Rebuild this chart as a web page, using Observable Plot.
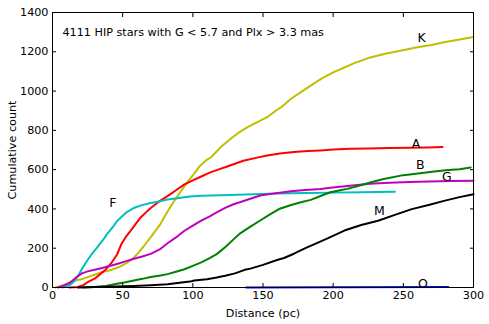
<!DOCTYPE html>
<html><head><meta charset="utf-8">
<script src="https://cdn.jsdelivr.net/npm/d3@7"></script>
<script src="https://cdn.jsdelivr.net/npm/@observablehq/plot@0.6"></script>
<style>body{margin:0;background:#fff;font-family:"DejaVu Sans",sans-serif}</style>
</head><body><div id="chart"></div>
<script>
const title = "4111 HIP stars with G < 5.7 and Plx > 3.3 mas";
const xLabel = "Distance (pc)";
const yLabel = "Cumulative count";
const xTicks = [0,50,100,150,200,250,300];
const yTicks = [0,200,400,600,800,1000,1200,1400];

const seriesK = [[2,0],[8,12],[13,30],[22,45],[28,60],[34,76],[41,88],[47,103],[53,125],[57,145],[61,175],[65,210],[70,256],[74,295],[77,324],[81,375],[86,433],[91,485],[96,535],[101,580],[105,619],[110,650],[113,663],[120,715],[127,757],[133,790],[139,816],[146,842],[153,867],[160,905],[163,918],[170,961],[177,995],[184,1028],[192,1065],[200,1095],[208,1120],[215,1142],[225,1168],[237,1190],[248,1205],[260,1223],[270,1235],[279,1249],[290,1262],[300,1275]];
const seriesA = [[12,0],[18,3],[22,12],[25,27],[30,45],[34,68],[38,92],[42,125],[46,168],[49,220],[52,255],[56,292],[60,330],[63,358],[67,385],[70,405],[76,438],[82,465],[88,495],[94,525],[100,545],[106,565],[112,585],[118,600],[124,615],[130,630],[136,645],[145,660],[153,672],[162,682],[172,690],[182,695],[191,698],[200,702],[212,706],[225,708],[240,710],[255,712],[267,713],[278,715]];
const seriesF = [[7,0],[12,10],[15,28],[18,55],[21,95],[25,140],[28,170],[32,205],[36,242],[39,273],[43,308],[46,338],[50,365],[53,384],[58,405],[63,418],[70,430],[75,436],[82,448],[90,456],[98,463],[106,467],[120,470],[138,473],[160,478],[180,481],[200,483],[220,485],[244,487]];
const seriesG = [[4,0],[8,10],[12,22],[15,40],[18,58],[21,72],[25,82],[30,90],[34,97],[40,108],[46,120],[52,133],[58,146],[64,158],[70,171],[77,197],[82,225],[88,255],[94,289],[100,315],[106,340],[112,362],[117,382],[123,405],[129,424],[134,435],[141,452],[148,468],[155,476],[162,482],[170,490],[180,496],[191,502],[198,508],[212,518],[226,528],[240,533],[255,537],[268,540],[285,542],[300,544]];
const seriesB = [[22,0],[30,3],[38,8],[46,19],[52,27],[58,36],[64,44],[70,53],[77,61],[82,68],[88,80],[94,93],[100,110],[106,128],[112,150],[117,170],[123,205],[129,245],[134,277],[141,310],[148,341],[155,372],[162,401],[170,420],[177,434],[184,446],[191,466],[198,485],[205,495],[210,502],[219,519],[227,536],[236,552],[250,572],[262,582],[272,590],[282,598],[290,602],[298,611]];
const seriesM = [[18,0],[30,2],[45,5],[58,8],[70,12],[82,17],[92,25],[98,30],[101,36],[110,42],[117,51],[123,60],[130,72],[137,90],[141,96],[150,115],[160,140],[165,150],[172,172],[181,203],[188,225],[196,250],[208,290],[220,318],[232,340],[244,370],[256,399],[268,420],[279,441],[290,460],[300,475]];
const seriesO = [[138,0],[200,1],[282,2]];

const names = ["K","A","F","G","B","M","O"];
const colors = ["#bfbf00","#ff0000","#00bfbf","#bf00bf","#008000","#000000","#0000ff"];
const allSeries = [seriesK, seriesA, seriesF, seriesG, seriesB, seriesM, seriesO];
const labelX = [263, 259, 43, 281, 262, 233, 264];
const labelY = [1268, 733, 428, 565, 626, 392, 20];

const rows = allSeries.flatMap((s, i) => s.map(([d, c]) => ({name: names[i], d, c})));
const labels = names.map((n, i) => ({name: n, d: labelX[i], c: labelY[i]}));

const chart = Plot.plot({
  width: 489, height: 324,
  marginLeft: 52, marginRight: 16, marginTop: 12, marginBottom: 37,
  style: {fontFamily: "DejaVu Sans, sans-serif", fontSize: "11.2px", color: "#000", background: "#fff"},
  x: {domain: [0, 300]},
  y: {domain: [0, 1400]},
  color: {domain: names, range: colors},
  marks: [
    Plot.line(rows, {x: "d", y: "c", z: "name", stroke: "name", strokeWidth: 2}),
    Plot.text(labels, {x: "d", y: "c", text: "name", fontSize: 12.5, fill: "#000"}),
    Plot.text([title], {frameAnchor: "top-left", dx: 10, dy: 16, text: d => d, textAnchor: "start", fontSize: 11.2}),
    Plot.frame({stroke: "#000", strokeWidth: 1}),
    Plot.axisX(xTicks, {anchor: "bottom", tickSize: 4, dy: -4, text: null, label: null}),
    Plot.axisX(xTicks, {anchor: "top", tickSize: 4, dy: 4, text: null, label: null}),
    Plot.axisY(yTicks, {anchor: "left", tickSize: 4, dx: 4, text: null, label: null}),
    Plot.axisY(yTicks, {anchor: "right", tickSize: 4, dx: -4, text: null, label: null}),
    Plot.axisX(xTicks, {anchor: "bottom", tickSize: 0, tickPadding: 4, fontSize: 11.2, tickFormat: d3.format("d"), label: xLabel, labelAnchor: "center", labelArrow: "none", labelOffset: 29}),
    Plot.axisY(yTicks, {anchor: "left", tickSize: 0, tickPadding: 4, fontSize: 11.2, tickFormat: d3.format("d"), label: yLabel, labelAnchor: "center", labelArrow: "none", labelOffset: 44})
  ]
});
document.getElementById("chart").appendChild(chart);
</script></body></html>
